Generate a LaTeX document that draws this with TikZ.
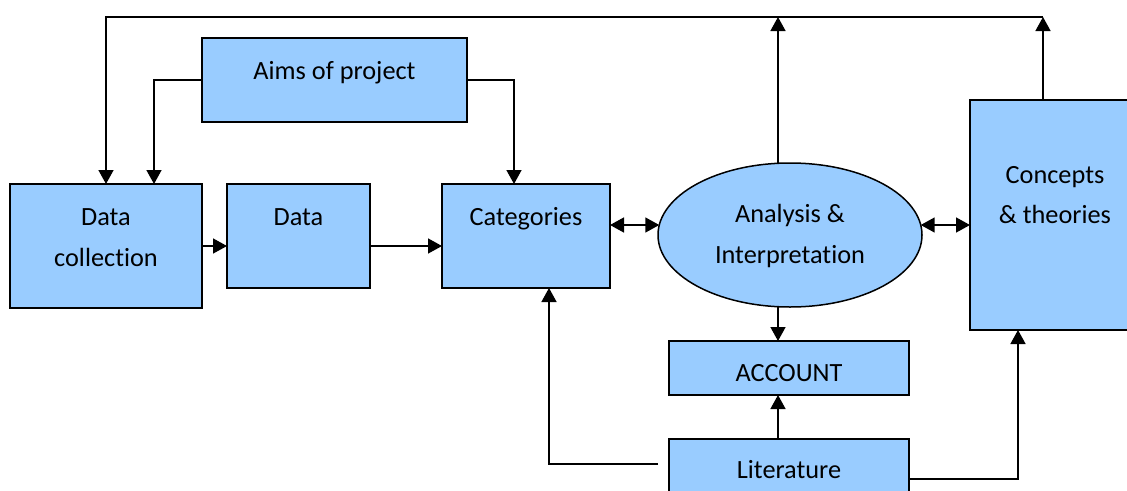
\documentclass[tikz,border=0pt]{standalone}
\usepackage{fontspec}
\setmainfont{Carlito}[Ligatures=NoCommon]
\usetikzlibrary{arrows.meta,shapes.geometric,calc}
\definecolor{boxblue}{HTML}{99CCFF}
\begin{document}
\begin{tikzpicture}[x=1pt,y=-1pt,
  box/.style={draw=black, fill=boxblue, line width=1.5pt, rectangle, inner sep=0pt, outer sep=0pt},
  oval/.style={box, ellipse},
  txt/.style={font=\fontsize{26.3}{31}\selectfont, anchor=base, inner sep=0pt},
  link/.style={line width=1.5pt},
  arr/.style={link, -{Triangle[width=15pt,length=14pt]}},
  dbl/.style={link, {Triangle[width=15pt,length=14pt]}-{Triangle[width=15pt,length=14pt]}}]
\clip (0,0) rectangle (1127,490);

% boxes
\node[box, minimum width=265pt, minimum height=84pt]  (aims) at (334.5,80) {};
\node[box, minimum width=192pt, minimum height=124pt] (dc)   at (106,246) {};
\node[box, minimum width=143pt, minimum height=104pt] (data) at (298.5,236) {};
\node[box, minimum width=168pt, minimum height=104pt] (cat)  at (526,236) {};
\node[oval, minimum width=264pt, minimum height=144pt] (ell) at (790,235) {};
\node[box, minimum width=170pt, minimum height=230pt] (conc) at (1055,215) {};
\node[box, minimum width=240pt, minimum height=54pt]  (acc)  at (789,368) {};
\node[box, minimum width=240pt, minimum height=62pt]  (lit)  at (789,470) {};

% labels, one node per line
\node[txt] (aimsT) at (334.5,79) {Aims of project};
\node[txt] (dcT1)  at (106,225) {Data};
\node[txt] (dcT2)  at (106,266) {collection};
\node[txt] (dataT) at (298.5,225) {Data};
\node[txt] (catT)  at (526,225) {Categories};
\node[txt] (ellT1) at (790,222) {Analysis \&};
\node[txt] (ellT2) at (790,263) {Interpretation};
\node[txt] (concT1) at (1055,183) {Concepts};
\node[txt] (concT2) at (1055,223) {\& theories};
\node[txt] (accT)  at (789,381) {ACCOUNT};
\node[txt] (litT)  at (789,478) {Literature};

% feedback line along the top
\coordinate (topL) at (106,17);
\coordinate (topM) at (778,17);
\coordinate (topR) at (1043,17);
\draw[arr] (topR |- conc.north) -- (topR);
\draw[arr] (topM |- ell.north) -- (topM);
\draw[arr] (topR) -- (topL) -- (dc.north);

% aims feed data collection and categories
\draw[arr] (aims.west) -| ($(dc.north)+(48,0)$);
\draw[arr] (aims.east) -| ($(cat.north)+(-12,0)$);

% main flow
\draw[arr] (dc.east) -- (dc.east -| data.west);
\draw[arr] (data.east |- dc.east) -- (cat.west |- dc.east);
\draw[dbl] ($(cat.east)+(0,-11)$) -- ($(ell.west)+(1.3,-10)$);
\draw[dbl] ($(ell.east)+(-1.3,-10)$) -- ($(conc.west)+(0,10)$);
\draw[arr] ($(ell.south)+(-12,0)$) -- ($(acc.north)+(-11,0)$);

% literature
\draw[arr] ($(lit.north)+(-11,0)$) -- ($(acc.south)+(-11,0)$);
\draw[arr] ($(lit.west)+(-11,-6)$) -| ($(cat.south)+(23,0)$);
\draw[arr] ($(lit.east)+(0,9)$) -| ($(conc.south)+(-37,0)$);
\end{tikzpicture}
\end{document}
